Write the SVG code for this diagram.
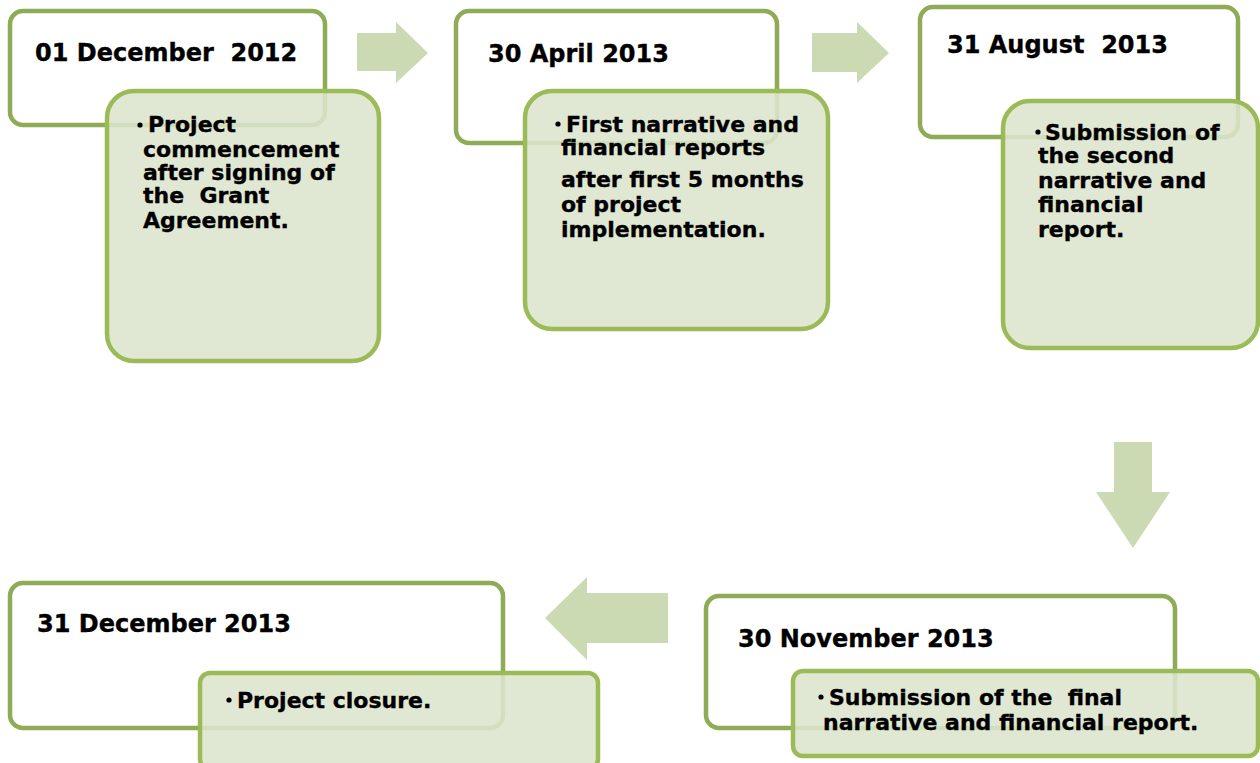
<svg xmlns="http://www.w3.org/2000/svg" width="1260" height="763" viewBox="0 0 1260 763">
  <style>
    .date { fill: #ffffff; stroke: #8eab55; stroke-width: 4.5; }
    .note { fill: #dce5cd; fill-opacity: 0.88; stroke: #9bbb59; stroke-width: 4.5; }
    .title { font-family: "DejaVu Sans", "Liberation Sans", sans-serif; font-weight: bold; font-size: 24px; fill: #000; stroke: #000; stroke-width: 0.35; white-space: pre; }
    .body { font-family: "DejaVu Sans", "Liberation Sans", sans-serif; font-weight: bold; font-size: 22px; fill: #000; stroke: #000; stroke-width: 0.35; white-space: pre; }
    .dot { fill: #000; }
    .arrow { fill: #ccdab3; }
  </style>

  <!-- flow arrows between milestones -->
  <g id="connectors">
    <polygon class="arrow" points="357,33 396,33 396,22 428,53 396,83 396,71 357,71"/>
    <polygon class="arrow" points="812,33 857,33 857,22 889,53 857,83 857,72 812,72"/>
    <polygon class="arrow" points="1114,442 1152,442 1152,492 1170,492 1133,548 1096,492 1114,492"/>
    <polygon class="arrow" points="668,593 587,593 587,577 545,618 587,660 587,643 668,643"/>
  </g>

  <g id="node-dec2012">
    <rect class="date" x="10" y="11" width="315" height="114" rx="13"/>
    <text class="title" x="35" y="61">01 December  2012</text>
    <rect class="note" x="107" y="91" width="272" height="270" rx="27"/>
    <circle class="dot" cx="140" cy="125" r="2.6"/>
    <text class="body" x="148" y="132">Project</text>
    <text class="body" x="143" y="157">commencement</text>
    <text class="body" x="143" y="180">after signing of</text>
    <text class="body" x="143" y="203">the  Grant</text>
    <text class="body" x="143" y="228">Agreement.</text>
  </g>

  <g id="node-apr2013">
    <rect class="date" x="456" y="11" width="321" height="132" rx="13"/>
    <text class="title" x="488" y="62">30 April 2013</text>
    <rect class="note" x="525" y="91" width="303" height="238" rx="27"/>
    <circle class="dot" cx="558" cy="124" r="2.6"/>
    <text class="body" x="566" y="132">First narrative and</text>
    <text class="body" x="561" y="155">financial reports</text>
    <text class="body" x="561" y="187">after first 5 months</text>
    <text class="body" x="561" y="212">of project</text>
    <text class="body" x="561" y="237">implementation.</text>
  </g>

  <g id="node-aug2013">
    <rect class="date" x="920" y="7" width="318" height="130" rx="13"/>
    <text class="title" x="947" y="53">31 August  2013</text>
    <rect class="note" x="1003" y="101" width="255" height="247" rx="27"/>
    <circle class="dot" cx="1038" cy="132" r="2.6"/>
    <text class="body" x="1045" y="140">Submission of</text>
    <text class="body" x="1038" y="163">the second</text>
    <text class="body" x="1038" y="188">narrative and</text>
    <text class="body" x="1038" y="212">financial</text>
    <text class="body" x="1038" y="237">report.</text>
  </g>

  <g id="node-nov2013">
    <rect class="date" x="706" y="596" width="469" height="132" rx="13"/>
    <text class="title" x="738" y="647">30 November 2013</text>
    <rect class="note" x="793" y="671" width="465" height="85" rx="10"/>
    <circle class="dot" cx="821" cy="697" r="2.6"/>
    <text class="body" x="829" y="705">Submission of the  final</text>
    <text class="body" x="823" y="730">narrative and financial report.</text>
  </g>

  <g id="node-dec2013">
    <rect class="date" x="10" y="583" width="493" height="145" rx="13"/>
    <text class="title" x="37" y="632">31 December 2013</text>
    <rect class="note" x="200" y="673" width="398" height="96" rx="10"/>
    <circle class="dot" cx="229" cy="700" r="2.6"/>
    <text class="body" x="237" y="708">Project closure.</text>
  </g>
</svg>
